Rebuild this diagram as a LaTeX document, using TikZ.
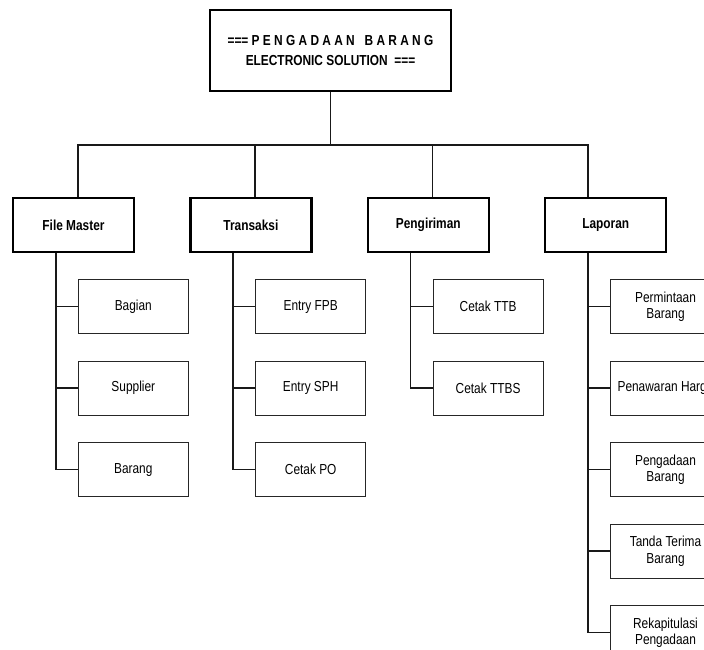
\documentclass[tikz,border=0pt]{standalone}
\usepackage{fontspec}
\setmainfont[FakeStretch=0.82]{Liberation Sans}
\usetikzlibrary{positioning}

\begin{document}
\begin{tikzpicture}[
  x=1pt, y=1pt,
  line width=1.5pt,
  judul/.style={rectangle, draw, line width=2.4pt, minimum width=241pt, minimum height=81pt, align=center, font=\fontsize{14.5}{20}\selectfont\bfseries},
  menu/.style={rectangle, draw, line width=2.4pt, minimum width=121pt, minimum height=54pt, align=center, font=\fontsize{14.5}{17}\selectfont\bfseries},
  submenu/.style={rectangle, draw=black!85, line width=1pt, minimum width=110pt, minimum height=54pt, inner sep=2pt, align=center, font=\fontsize{14.5}{16.5}\selectfont},
  link/.style={draw=black!90, line width=1.5pt}
]
  \useasboundingbox (0,0) rectangle (704,650);

  \node[judul] (top) at (330.5,599.5) {=== P E N G A D A A N\ \ \ B A R A N G\\ELECTRONIC SOLUTION\ \ ===};

  % menu utama
  \node[menu] (fm) at (73.5,425) {File Master};
  \node[menu, right=54pt of fm] (tr) {Transaksi};
  \node[menu, right=54pt of tr] (pg) {Pengiriman};
  \node[menu, right=54pt of pg] (lp) {Laporan};

  % sub menu
  \node[submenu, below=26pt of fm.south west, anchor=north west, xshift=66pt] (bg) {Bagian};
  \node[submenu, below=26.5pt of bg] (sp) {Supplier};
  \node[submenu, below=26.5pt of sp] (br) {Barang};

  \node[submenu, below=26pt of tr.south west, anchor=north west, xshift=66pt] (fpb) {Entry FPB};
  \node[submenu, below=26.5pt of fpb] (sph) {Entry SPH};
  \node[submenu, below=26.5pt of sph] (po) {Cetak PO};

  \node[submenu, below=26pt of pg.south west, anchor=north west, xshift=66pt] (ttb) {Cetak TTB};
  \node[submenu, below=26.5pt of ttb] (ttbs) {Cetak TTBS};

  \node[submenu, below=26pt of lp.south west, anchor=north west, xshift=66pt] (pb) {Permintaan\\Barang};
  \node[submenu, below=26.5pt of pb] (ph) {Penawaran Harga};
  \node[submenu, below=26.5pt of ph] (pgd) {Pengadaan\\Barang};
  \node[submenu, below=26.5pt of pgd] (tt) {Tanda Terima\\Barang};
  \node[submenu, below=26.5pt of tt] (rk) {Rekapitulasi\\Pengadaan};

  % garis penghubung
  \coordinate (fmup) at ([xshift=66pt]fm.north west);
  \coordinate (trup) at ([xshift=66pt]tr.north west);
  \coordinate (pgup) at ([xshift=66pt]pg.north west);
  \coordinate (lpup) at ([xshift=44pt]lp.north west);
  \draw[link] (top.south) -- ++(0,-53pt) coordinate (bus);
  \draw[link] (fmup) |- (bus) -| (lpup);
  \draw[link] (trup) -- (trup |- bus);
  \draw[link] (pgup) -- (pgup |- bus);

  \coordinate (fmdown) at ([xshift=44pt]fm.south west);
  \coordinate (trdown) at ([xshift=44pt]tr.south west);
  \coordinate (pgdown) at ([xshift=44pt]pg.south west);
  \coordinate (lpdown) at ([xshift=44pt]lp.south west);
  \draw[link] (fmdown) |- (bg.west);
  \draw[link] (fmdown) |- (sp.west);
  \draw[link] (fmdown) |- (br.west);
  \draw[link] (trdown) |- (fpb.west);
  \draw[link] (trdown) |- (sph.west);
  \draw[link] (trdown) |- (po.west);
  \draw[link] (pgdown) |- (ttb.west);
  \draw[link] (pgdown) |- (ttbs.west);
  \draw[link] (lpdown) |- (pb.west);
  \draw[link] (lpdown) |- (ph.west);
  \draw[link] (lpdown) |- (pgd.west);
  \draw[link] (lpdown) |- (tt.west);
  \draw[link] (lpdown) |- (rk.west);
\end{tikzpicture}
\end{document}
